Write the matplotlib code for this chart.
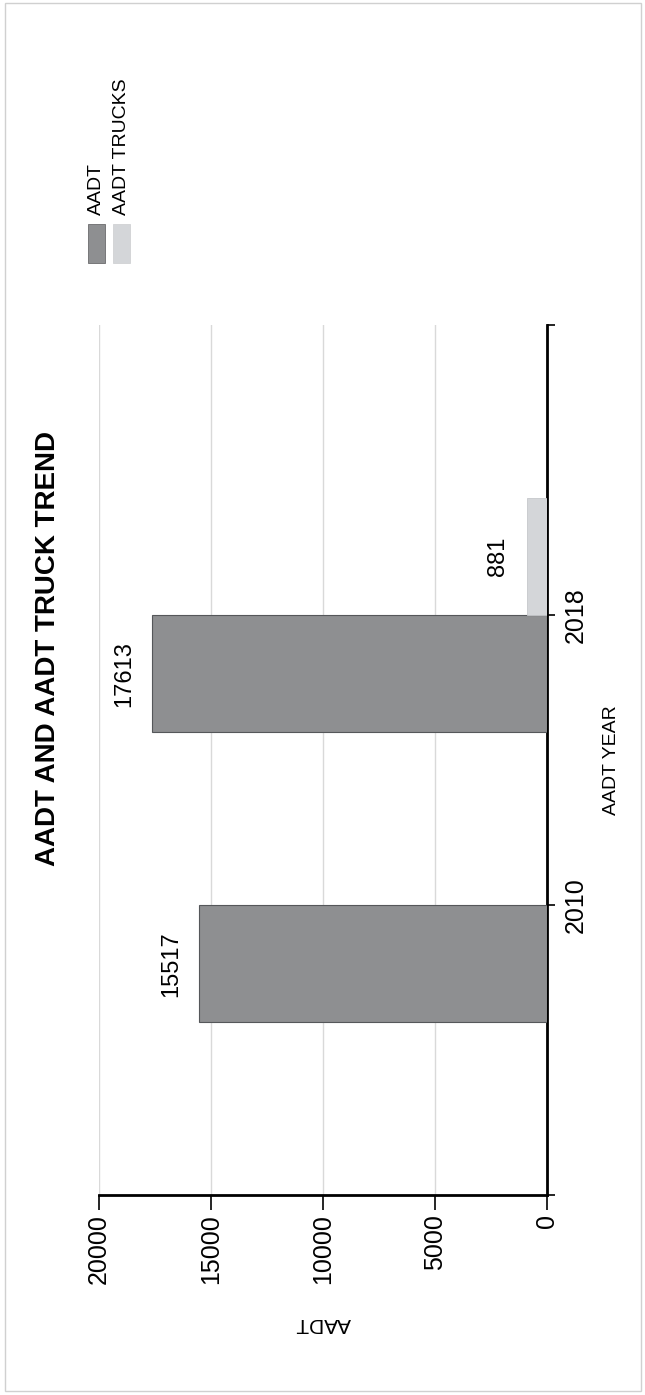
import numpy as np
import matplotlib.pyplot as plt
from matplotlib.patches import Rectangle

plt.rcParams['font.family'] = ['Liberation Sans', 'DejaVu Sans']

years = [2010, 2018]
aadt = [15517, 17613]
aadt_trucks = [np.nan, 881]          # no truck count for 2010
value_ticks = [0, 5000, 10000, 15000, 20000]
year_ticks = [2002, 2010, 2018, 2026]
year_labels = ['', '2010', '2018', '']

dark_grey = '#8e8f91'
light_grey = '#d4d6d9'

W, H = 645, 1395
fig = plt.figure(figsize=(W / 100, H / 100), dpi=100)


def fx(px):
    return px / W


def fy(py):
    return 1 - py / H


# page is turned on its side: values run right-to-left, years bottom-to-top
ax = fig.add_axes([fx(99), fy(1195), fx(547) - fx(99), fy(325) - fy(1195)])

bw = 3.24
y = np.array(years, dtype=float)
ax.barh(y - bw / 2, aadt, height=bw, color=dark_grey, edgecolor='#55575a',
        lw=0.8, label='AADT', zorder=3)
ax.barh(y + bw / 2, aadt_trucks, height=bw, color=light_grey,
        edgecolor='#c6c8cb', lw=0.6, label='AADT TRUCKS', zorder=3)

for yc, v in zip(y - bw / 2, aadt):
    ax.annotate(f'{v}', (v, yc), xytext=(-20, 0), textcoords='offset points',
                rotation=90, ha='center', va='center', fontsize=17)
for yc, v in zip(y + bw / 2, aadt_trucks):
    if np.isnan(v):
        continue
    ax.annotate(f'{v:.0f}', (v, yc), xytext=(-21, 0), textcoords='offset points',
                rotation=90, ha='center', va='center', fontsize=17)

ax.set_xlim(20000, 0)
ax.set_ylim(year_ticks[0], year_ticks[-1])
ax.set_xticks(value_ticks, labels=[str(t) for t in value_ticks], rotation=90)
ax.yaxis.tick_right()
ax.set_yticks(year_ticks, labels=year_labels)
for lbl in ax.get_yticklabels():
    lbl.set_rotation(90)
    lbl.set_va('center')

ax.tick_params(axis='x', length=10.5, width=1.2, pad=3, labelsize=18)
ax.tick_params(axis='y', length=6, width=1.2, pad=6, labelsize=18)

for side in ['top', 'left']:
    ax.spines[side].set_visible(False)
for side in ['bottom', 'right']:
    ax.spines[side].set_linewidth(2)
    ax.spines[side].set_color('black')

ax.xaxis.grid(True, color='#d9d9d9', lw=1)
ax.set_axisbelow(True)

ax.set_xlabel('AADT', rotation=180, fontsize=15)
ax.xaxis.set_label_coords(0.5, -(1323 - 1195) / 870)
ax.xaxis.label.set_va('center')

ax.yaxis.set_label_position('right')
ax.set_ylabel('AADT YEAR', rotation=90, fontsize=14)
ax.yaxis.set_label_coords((612 - 99) / 448, 0.5)
ax.yaxis.label.set_va('center')

fig.text(fx(48), fy(648), 'AADT AND AADT TRUCK TREND', rotation=90,
         fontweight='bold', fontsize=20, ha='center', va='center')

# legend drawn by hand so it can sit sideways like the rest
for x0, col, ec, text in [(88, dark_grey, '#6a6b6d', 'AADT'),
                          (113, light_grey, '#d0d2d4', 'AADT TRUCKS')]:
    fig.add_artist(Rectangle((fx(x0), fy(263)), fx(17), fy(224) - fy(263),
                             transform=fig.transFigure, fc=col, ec=ec, lw=0.6))
    fig.text(fx(x0 + 8.5), fy(215), text, rotation=90, fontsize=14,
             ha='center', va='bottom')

fig.add_artist(Rectangle((fx(5), fy(1391)), fx(641) - fx(5), fy(3) - fy(1391),
                         transform=fig.transFigure, fill=False,
                         ec='#d0d0d0', lw=1))

fig.savefig('out.png', dpi=100)
